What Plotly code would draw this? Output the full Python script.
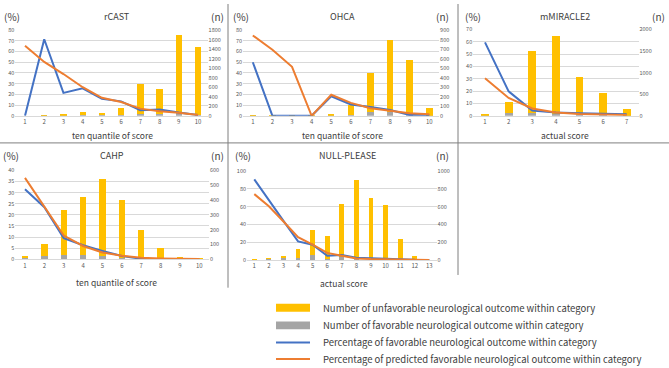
import plotly.graph_objects as go

# ---------------- data ----------------
rcast_cats = list(range(1, 11))
rcast_unfav = [0, 2, 12, 52, 56, 136, 635, 522, 1650, 1426]
rcast_fav = [0, 4, 3, 18, 12, 20, 35, 33, 50, 14]
rcast_pct_actual = [0, 71.5, 21.4, 25.7, 16, 13.5, 5.2, 5.8, 3, 0.7]
rcast_pct_pred = [65.5, 50.3, 39, 26.7, 16.8, 12.9, 6.7, 4.3, 2.8, 0.7]

ohca_cats = list(range(1, 11))
ohca_unfav = [1, 1, 2, 1, 14, 98, 415, 755, 580, 76]
ohca_fav = [1, 0, 0, 0, 3, 12, 38, 45, 5, 1]
ohca_pct_actual = [50, 0, 0, 0, 18.3, 10.6, 8.2, 5.5, 0.8, 0.8]
ohca_pct_pred = [75, 61.7, 45.7, 0, 19.7, 12.1, 7, 4.6, 2.4, 1.5]

mm_cats = list(range(1, 8))
mm_unfav = [13, 245, 1430, 1800, 880, 527, 148]
mm_fav = [2, 65, 65, 50, 18, 8, 2]
mm_pct_actual = [59.5, 19.8, 4.2, 2.6, 2, 1.5, 1.2]
mm_pct_pred = [30.4, 14.5, 6, 2.6, 1.4, 0.9, 0.6]

cahp_cats = list(range(1, 11))
cahp_unfav = [14, 83, 298, 394, 520, 391, 199, 78, 15, 1]
cahp_fav = [6, 22, 32, 26, 20, 6, 1, 0, 0, 0]
cahp_pct_actual = [31.5, 23.4, 9.5, 6.3, 3.8, 1.5, 0.3, 0.2, 0.1, 0]
cahp_pct_pred = [36.6, 23.4, 10.7, 6, 3.1, 1.6, 0.7, 0.4, 0.2, 0.1]

np_cats = list(range(1, 14))
np_unfav = [1, 6, 26, 99, 279, 254, 595, 874, 683, 606, 230, 40, 0]
np_fav = [9, 12, 18, 26, 58, 13, 35, 23, 13, 9, 1, 0, 0]
np_pct_actual = [90.5, 67.8, 44, 20.9, 17.2, 4.8, 5.5, 2.6, 1.8, 1.5, 0.4, 0.2, 0]
np_pct_pred = [74, 60.4, 43.2, 25.6, 17.2, 8, 4.8, 1.8, 1.1, 0.7, 0.4, 0.2, 0.1]

panel_titles = ["rCAST", "OHCA", "mMIRACLE2", "CAHP", "NULL-PLEASE"]
x_titles = ["ten quantile of score", "ten quantile of score", "actual score",
            "ten quantile of score", "actual score"]
legend_labels = [
    "Number of unfavorable neurological outcome within category",
    "Number of favorable neurological outcome within category",
    "Percentage of favorable neurological outcome within category",
    "Percentage of predicted favorable neurological outcome within category",
]

# ---------------- styling / layout ----------------
W, H = 669, 368
FONT = "Noto Sans CJK JP"
YELLOW, GRAY, BLUE, ORANGE = "#FFC000", "#A5A5A5", "#4472C4", "#ED7D31"
GRID = "#D9D9D9"
TICK = "#595959"
TXT = "#404040"


def fx(p):
    return p / W


def fy(p):
    return 1 - p / H


data_sets = [
    (rcast_cats, rcast_fav, rcast_unfav, rcast_pct_actual, rcast_pct_pred),
    (ohca_cats, ohca_fav, ohca_unfav, ohca_pct_actual, ohca_pct_pred),
    (mm_cats, mm_fav, mm_unfav, mm_pct_actual, mm_pct_pred),
    (cahp_cats, cahp_fav, cahp_unfav, cahp_pct_actual, cahp_pct_pred),
    (np_cats, np_fav, np_unfav, np_pct_actual, np_pct_pred),
]

# pixel geometry: plot x-domain, y-domain (top,bottom), axis ranges
geo = [
    dict(xd=(15.4, 207.6), yd=(26.7, 114.3), lmax=80, ldt=10, rmax=1800, rdt=200,
         head_y=13, pct_x=12, title_x=117, n_x=217, xt_x=112, xt_y=134),
    dict(xd=(243.0, 439.1), yd=(26.7, 114.3), lmax=80, ldt=10, rmax=900, rdt=100,
         head_y=13, pct_x=241, title_x=342, n_x=443, xt_x=342, xt_y=134),
    dict(xd=(473.2, 638.5), yd=(26.0, 114.3), lmax=70, ldt=10, rmax=2000, rdt=500,
         head_y=13, pct_x=473, title_x=565, n_x=658, xt_x=565, xt_y=134),
    dict(xd=(15.3, 209.0), yd=(170.0, 261.0), lmax=40, ldt=5, rmax=600, rdt=100,
         head_y=155, pct_x=11, title_x=112, n_x=217, xt_x=116, xt_y=284),
    dict(xd=(247.0, 436.6), yd=(170.7, 261.7), lmax=100, ldt=20, rmax=1000, rdt=200,
         head_y=155, pct_x=243, title_x=347, n_x=443, xt_x=344, xt_y=285),
]

fig = go.Figure()
layout = dict(
    width=W, height=H, margin=dict(l=0, r=0, t=0, b=0),
    paper_bgcolor="white", plot_bgcolor="white",
    barmode="stack", bargap=0.67, showlegend=False,
    font=dict(family=FONT, color=TXT),
)
annotations = []
shapes = []

for i, ((cats, fav, unfav, act, pred), g) in enumerate(zip(data_sets, geo)):
    k = i + 1
    xa = "x" if k == 1 else f"x{k}"
    yb_n = 2 * k - 1
    yo_n = 2 * k
    yb = "y" if yb_n == 1 else f"y{yb_n}"
    yo = f"y{yo_n}"

    fig.add_trace(go.Bar(x=cats, y=fav, xaxis=xa, yaxis=yb, marker_color=GRAY,
                         marker_line_width=0, name=legend_labels[1]))
    fig.add_trace(go.Bar(x=cats, y=unfav, xaxis=xa, yaxis=yb, marker_color=YELLOW,
                         marker_line_width=0, name=legend_labels[0]))
    fig.add_trace(go.Scatter(x=cats, y=act, xaxis=xa, yaxis=yo, mode="lines",
                             line=dict(color=BLUE, width=2), name=legend_labels[2]))
    fig.add_trace(go.Scatter(x=cats, y=pred, xaxis=xa, yaxis=yo, mode="lines",
                             line=dict(color=ORANGE, width=2), name=legend_labels[3]))

    xdom = [fx(g["xd"][0]), fx(g["xd"][1])]
    ydom = [fy(g["yd"][1]), fy(g["yd"][0])]
    n = len(cats)
    layout["xaxis" if k == 1 else f"xaxis{k}"] = dict(
        domain=xdom, anchor=yb, range=[0.5, n + 0.5], tickmode="array",
        tickvals=cats, ticks="", showgrid=False, zeroline=False,
        showline=True, linecolor=GRID, linewidth=1,
        tickfont=dict(size=6, color=TICK, family=FONT), fixedrange=True,
    )
    layout["yaxis" if yb_n == 1 else f"yaxis{yb_n}"] = dict(
        domain=ydom, anchor=xa, side="right", range=[0, g["rmax"]], dtick=g["rdt"],
        showgrid=False, zeroline=False, showline=False, ticks="",
        tickfont=dict(size=5.5, color=TICK, family=FONT), fixedrange=True,
    )
    layout[f"yaxis{yo_n}"] = dict(
        overlaying=yb, anchor=xa, side="left", range=[0, g["lmax"]], dtick=g["ldt"],
        showgrid=True, gridcolor=GRID, gridwidth=1, zeroline=True,
        zerolinecolor=GRID, zerolinewidth=1, showline=False, ticks="",
        tickfont=dict(size=5.5, color=TICK, family=FONT), fixedrange=True,
    )

    annotations += [
        dict(text="(%)", x=fx(g["pct_x"]), y=fy(g["head_y"]), xref="paper", yref="paper",
             showarrow=False, xanchor="center", yanchor="middle",
             font=dict(size=10, color=TXT, family=FONT)),
        dict(text=panel_titles[i], x=fx(g["title_x"]), y=fy(g["head_y"]), xref="paper",
             yref="paper", showarrow=False, xanchor="center", yanchor="middle",
             font=dict(size=9, color=TXT, family=FONT)),
        dict(text="(n)", x=fx(g["n_x"]), y=fy(g["head_y"]), xref="paper", yref="paper",
             showarrow=False, xanchor="center", yanchor="middle",
             font=dict(size=10, color=TXT, family=FONT)),
        dict(text=x_titles[i], x=fx(g["xt_x"]), y=fy(g["xt_y"]), xref="paper",
             yref="paper", showarrow=False, xanchor="center", yanchor="middle",
             font=dict(size=8.5, color=TXT, family=FONT)),
    ]

# panel separator lines
SEP = "#7F7F7F"
shapes += [
    dict(type="line", xref="paper", yref="paper", x0=fx(228), x1=fx(228), y0=fy(0), y1=fy(290),
         line=dict(color=SEP, width=1)),
    dict(type="line", xref="paper", yref="paper", x0=fx(458), x1=fx(458), y0=fy(0), y1=fy(277),
         line=dict(color=SEP, width=1)),
    dict(type="line", xref="paper", yref="paper", x0=0, x1=1, y0=fy(142), y1=fy(142),
         line=dict(color=SEP, width=1)),
]

# manual legend
leg_x0, leg_x1, leg_tx = 276, 310, 321
leg_rows = [310.5, 328.5, 346, 363]
shapes += [
    dict(type="rect", xref="paper", yref="paper", x0=fx(leg_x0), x1=fx(leg_x1),
         y0=fy(leg_rows[0] + 4), y1=fy(leg_rows[0] - 4), fillcolor=YELLOW, line_width=0),
    dict(type="rect", xref="paper", yref="paper", x0=fx(leg_x0), x1=fx(leg_x1),
         y0=fy(leg_rows[1] + 4), y1=fy(leg_rows[1] - 4), fillcolor=GRAY, line_width=0),
    dict(type="line", xref="paper", yref="paper", x0=fx(leg_x0), x1=fx(leg_x1),
         y0=fy(leg_rows[2]), y1=fy(leg_rows[2]), line=dict(color=BLUE, width=2)),
    dict(type="line", xref="paper", yref="paper", x0=fx(leg_x0), x1=fx(leg_x1),
         y0=fy(leg_rows[3]), y1=fy(leg_rows[3]), line=dict(color=ORANGE, width=2)),
]
for lab, ry in zip(legend_labels, leg_rows):
    annotations.append(dict(text=lab, x=fx(leg_tx), y=fy(ry), xref="paper", yref="paper",
                            showarrow=False, xanchor="left", yanchor="middle",
                            font=dict(size=9.5, color=TXT, family=FONT)))

layout["annotations"] = annotations
layout["shapes"] = shapes
fig.update_layout(**layout)
# remove the browser's default 8px body margin so the figure sits at the page origin
fig.write_html("out.html",
               config={"displayModeBar": False},
               post_script="document.body.style.margin='0';document.body.style.padding='0';")
